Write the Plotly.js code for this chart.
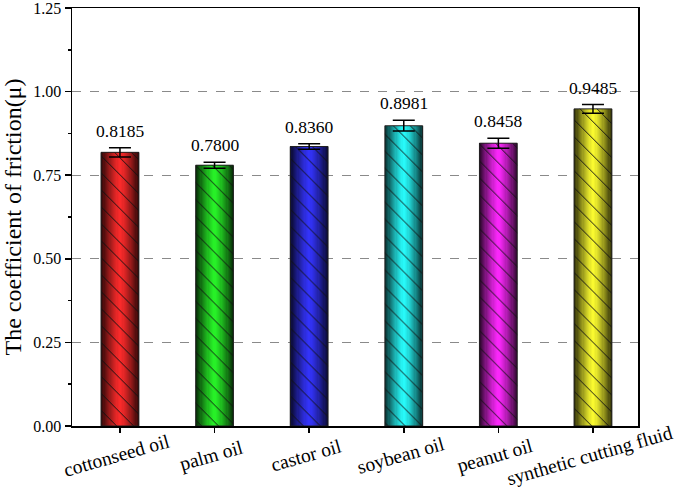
<!DOCTYPE html>
<html>
<head>
<meta charset="utf-8">
<script src="https://cdn.plot.ly/plotly-3.0.1.min.js"></script>
<style>html,body{margin:0;padding:0;background:#fff;}#chart{width:685px;height:490px;}</style>
</head>
<body>
<div id="chart"></div>
<script>
// ---- data ----
const categories = ["cottonseed oil", "palm oil", "castor oil", "soybean oil", "peanut oil", "synthetic cutting fluid"];
const frictionValues = [0.8185, 0.7800, 0.8360, 0.8981, 0.8458, 0.9485];
const errorValues = [0.014, 0.009, 0.008, 0.016, 0.015, 0.013];
const valueLabels = ["0.8185", "0.7800", "0.8360", "0.8981", "0.8458", "0.9485"];
const barColors = [[255, 43, 43], [40, 245, 40], [52, 52, 255], [40, 255, 255], [255, 40, 255], [255, 255, 48]];
const yTickVals = [0, 0.25, 0.5, 0.75, 1.0, 1.25];
const yTickText = ["0.00", "0.25", "0.50", "0.75", "1.00", "1.25"];

const FONT = "Liberation Serif";
const BAR_W = 0.4;
const traces = [];

// gradient (dark edges -> bright centre) via stacked overlay bars
const N = 16;
for (let k = 0; k < N; k++) {
  const t = 1 - k / N;            // 1 at edge, ->0 at centre
  const f = 1 - 0.8 * Math.pow(t, 1.3);
  const cols = barColors.map(c => `rgb(${Math.round(c[0]*f)},${Math.round(c[1]*f)},${Math.round(c[2]*f)})`);
  traces.push({
    type: "bar", x: categories, y: frictionValues, width: BAR_W * t,
    marker: { color: cols, line: { width: 0 } },
    hoverinfo: "skip", showlegend: false
  });
}
// hatch + outline + error bars
traces.push({
  type: "bar", x: categories, y: frictionValues, width: BAR_W,
  marker: {
    color: "rgba(0,0,0,0)",
    line: { color: "#222", width: 1 },
    pattern: { shape: "\\", fgcolor: "#111", bgcolor: "rgba(0,0,0,0)", fillmode: "replace", size: 12, solidity: 0.08 }
  },
  error_y: { type: "data", array: errorValues, visible: true, color: "#000", thickness: 1.5, width: 11 },
  hoverinfo: "skip", showlegend: false
});

const annotations = [];
categories.forEach((c, i) => {
  annotations.push({
    x: c, y: frictionValues[i] + errorValues[i], xref: "x", yref: "y",
    text: valueLabels[i], showarrow: false, yanchor: "bottom", yshift: 5,
    font: { family: FONT, size: 17.5, color: "#000" }
  });
  annotations.push({
    x: c, y: -0.07, xref: "x", yref: "paper", xshift: -3,
    text: c, showarrow: false, textangle: -16, xanchor: "center", yanchor: "middle",
    font: { family: FONT, size: 19.5, color: "#000" }
  });
});

const layout = {
  width: 685, height: 490,
  margin: { l: 72, r: 47, t: 8, b: 64, pad: 0 },
  paper_bgcolor: "#fff", plot_bgcolor: "#fff",
  barmode: "overlay", bargap: 0,
  showlegend: false,
  font: { family: FONT, color: "#000" },
  xaxis: {
    type: "category", range: [-0.507, 5.476],
    showticklabels: false, ticks: "outside", ticklen: 5, tickwidth: 1.5, tickcolor: "#000",
    showline: true, linecolor: "#000", linewidth: 1.5, mirror: true,
    showgrid: false, zeroline: false
  },
  yaxis: {
    range: [0, 1.2502], tickvals: yTickVals, ticktext: yTickText, ticklabeloverflow: "allow",
    ticks: "outside", ticklen: 6, tickwidth: 1.5, tickcolor: "#000",
    tickfont: { family: FONT, size: 16, color: "#000" },
    minor: { dtick: 0.125, tick0: 0, ticks: "outside", ticklen: 3, tickwidth: 1.5, tickcolor: "#000", showgrid: false },
    showline: true, linecolor: "#000", linewidth: 1.5, mirror: true,
    showgrid: true, gridcolor: "#8a8a8a", griddash: "dash", gridwidth: 1,
    zeroline: false,
    title: { text: "The coefficient of friction(μ)", font: { family: FONT, size: 24, color: "#000" }, standoff: 6 }
  },
  annotations: annotations
};

Plotly.newPlot("chart", traces, layout, { staticPlot: true, displayModeBar: false });
</script>
</body>
</html>
